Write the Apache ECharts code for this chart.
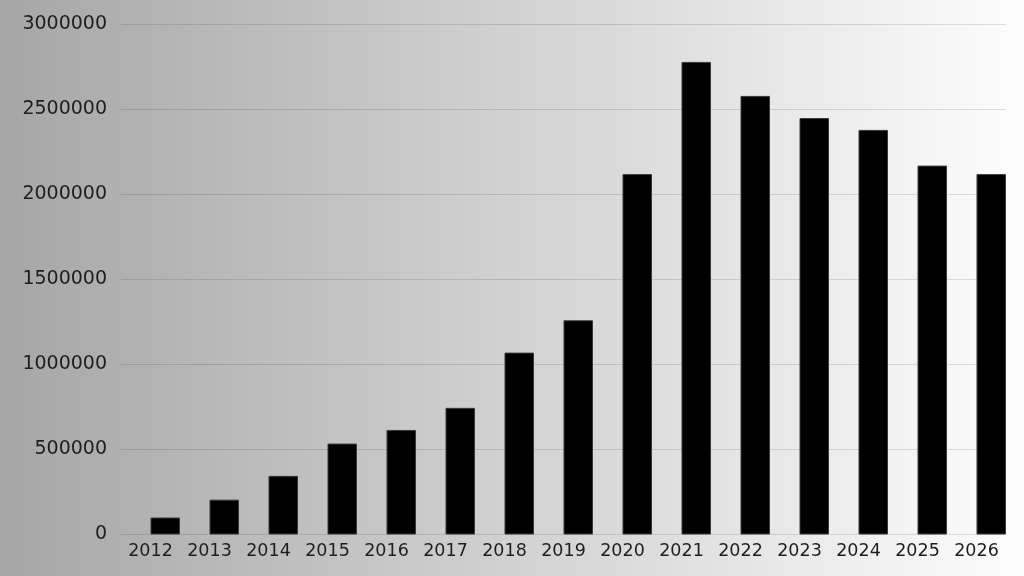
<!DOCTYPE html>
<html>
<head>
<meta charset="utf-8">
<script src="https://cdn.jsdelivr.net/npm/echarts@6/dist/echarts.min.js"></script>
<style>
html,body{margin:0;padding:0;width:1024px;height:576px;overflow:hidden;}
#chart{width:1024px;height:576px;}
</style>
</head>
<body>
<div id="chart"></div>
<script>
var years = ['2012','2013','2014','2015','2016','2017','2018','2019','2020','2021','2022','2023','2024','2025','2026'];
var values = [100000, 205000, 345000, 535000, 615000, 745000, 1070000, 1260000, 2120000, 2780000, 2580000, 2450000, 2380000, 2170000, 2120000];
var spacer = [0,0,0,0,0,0,0,0,0,0,0,0,0,0,0];
var yMin = 0, yMax = 3000000, yStep = 500000;

var chart = echarts.init(document.getElementById('chart'));
chart.setOption({
  animation: false,
  backgroundColor: new echarts.graphic.LinearGradient(0, 0, 1, 0, [
    {offset: 0, color: '#a6a6a6'},
    {offset: 1, color: '#fdfdfd'}
  ]),
  grid: {left: 121, right: 18, top: 24.5, bottom: 41.5},
  xAxis: {
    type: 'category',
    data: years,
    axisLine: {show: false},
    axisTick: {show: false},
    axisLabel: {interval: 0, color: '#1e1e1e', fontFamily: 'DejaVu Sans', fontSize: 17.5, margin: 8}
  },
  yAxis: {
    type: 'value',
    min: yMin, max: yMax, interval: yStep,
    axisLine: {show: false},
    axisTick: {show: false},
    splitLine: {lineStyle: {color: 'rgba(0,0,0,0.12)', width: 1}},
    axisLabel: {
      color: '#1e1e1e', fontFamily: 'DejaVu Sans', fontSize: 19, margin: 14,
      formatter: function (v) { return String(v); }
    }
  },
  series: [
    {
      type: 'bar',
      data: spacer,
      barGap: '0%',
      barCategoryGap: '0%',
      itemStyle: {color: 'rgba(0,0,0,0)'},
      silent: true
    },
    {
      type: 'bar',
      data: values,
      barGap: '0%',
      barCategoryGap: '0%',
      itemStyle: {color: '#000', borderColor: '#3a3a3a', borderWidth: 1}
    }
  ]
});
</script>
</body>
</html>
